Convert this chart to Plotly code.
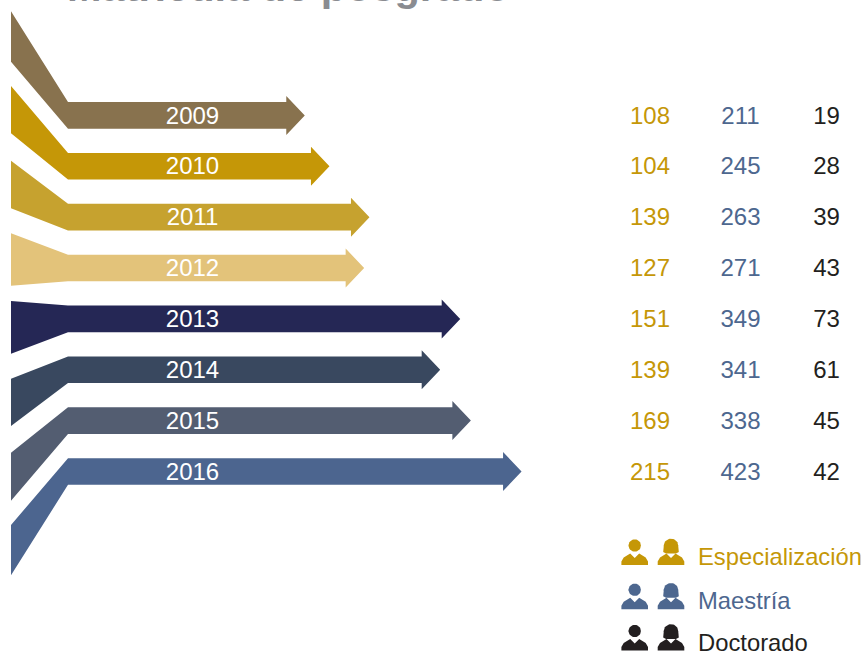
import numpy as np
import plotly.graph_objects as go

years = ["2009", "2010", "2011", "2012", "2013", "2014", "2015", "2016"]
especializacion = [108, 104, 139, 127, 151, 139, 169, 215]
maestria = [211, 245, 263, 271, 349, 341, 338, 423]
doctorado = [19, 28, 39, 43, 73, 61, 45, 42]
# Length of each arrow, in graduates
arrow_lengths = [355, 392, 452, 444, 588, 558, 604, 680]
bar_colors = ["#88724e", "#c59707", "#c6a22f", "#e3c37a", "#252755", "#39485f", "#535d71", "#4c658f"]
title_text = "Matrícula de posgrado"
legend_labels = ["Especialización", "Maestría", "Doctorado"]
legend_colors = ["#c59707", "#4d678f", "#231f20"]

# Tail ends at the left margin (pixel rows of top and bottom corners)
tail_top = [11.3, 86, 160.7, 233.3, 301, 378.7, 452.7, 525]
tail_bot = [61.7, 133.3, 208.3, 285.7, 353.7, 426, 500.7, 575.3]

W, H = 865, 651
PX_PER_UNIT = 0.667
X0_PX = 68
ROW0_PX = 115.4
ROW_PX = 50.87
HALF_BAR = 13.3
HEAD_LEN = 18.5
HEAD_HALF = 19.5
TEXT_DY = 2.2 / ROW_PX


def X(px):
    return (px - X0_PX) / PX_PER_UNIT


def Y(py):
    return (py - ROW0_PX) / ROW_PX


fig = go.Figure()


def poly(xs, ys, color):
    fig.add_trace(go.Scatter(x=list(xs), y=list(ys), mode="lines", fill="toself",
                             fillcolor=color, line=dict(width=0, color=color),
                             hoverinfo="skip", showlegend=False))


def label(xs, ys, texts, color, size, pos="middle center", family="Liberation Sans"):
    fig.add_trace(go.Scatter(x=list(xs), y=list(ys), mode="text", text=list(texts),
                             textposition=pos, cliponaxis=False,
                             textfont=dict(color=color, size=size, family=family),
                             hoverinfo="skip", showlegend=False))


half = HALF_BAR / ROW_PX
head_half = HEAD_HALF / ROW_PX
head_len = HEAD_LEN / PX_PER_UNIT

for i, year in enumerate(years):
    v = arrow_lengths[i]
    xs = [X(11), 0, v - head_len, v - head_len, v, v - head_len, v - head_len, 0, X(11)]
    ys = [Y(tail_top[i]), i - half, i - half, i - head_half, i, i + head_half, i + half, i + half,
          Y(tail_bot[i])]
    poly(xs, ys, bar_colors[i])

rows = [r + TEXT_DY for r in range(len(years))]
label([X(192.5)] * 8, rows, years, "#ffffff", 24)
label([X(650)] * 8, rows, especializacion, legend_colors[0], 24)
label([X(740.5)] * 8, rows, maestria, legend_colors[1], 24)
label([X(826.5)] * 8, rows, doctorado, legend_colors[2], 24)


def head(cx, cy, rx, ry, color):
    t = np.linspace(0, 2 * np.pi, 40)
    poly(X(cx + rx * np.cos(t)), Y(cy + ry * np.sin(t)), color)


def person(cx, yb, color, female):
    bx = np.array([-13.3, -13.3, -11, -4.5, 0, 4.5, 11, 13.3, 13.3])
    by = np.array([0, -3.5, -7.5, -11.5, -7, -11.5, -7.5, -3.5, 0])
    poly(X(cx + bx), Y(yb + by), color)
    if female:
        head(cx, yb - 19.5, 7.2, 6.8, color)
        hx = np.array([-7.2, -7.8, -5, 5, 7.8, 7.2])
        hy = np.array([-19.5, -13, -11.5, -11.5, -13, -19.5])
        poly(X(cx + hx), Y(yb + hy), color)
    else:
        head(cx, yb - 19.5, 6.2, 6.2, color)


legend_bottoms = [565, 609.3, 650.5]
legend_text_y = [559, 603, 645]
for c, yb, ty, lab in zip(legend_colors, legend_bottoms, legend_text_y, legend_labels):
    person(634.7, yb, c, False)
    person(671, yb, c, True)
    label([X(698)], [Y(ty)], [lab], c, 23.8, pos="middle right")

fig.add_annotation(x=X(65), y=Y(1), text="<b>" + title_text + "</b>", showarrow=False,
                   xanchor="left", yanchor="bottom", yshift=-11,
                   font=dict(family="Liberation Sans", size=41.5, color="#8a8c91"))

fig.update_layout(
    width=W, height=H, margin=dict(l=0, r=0, t=0, b=0),
    paper_bgcolor="white", plot_bgcolor="white", showlegend=False,
    xaxis=dict(range=[X(0), X(W)], visible=False, fixedrange=True),
    yaxis=dict(range=[Y(H), Y(0)], visible=False, fixedrange=True),
)
fig.write_html("out.html", config={"displayModeBar": False},
               post_script="document.body.style.margin='0';document.body.style.overflow='hidden';")
